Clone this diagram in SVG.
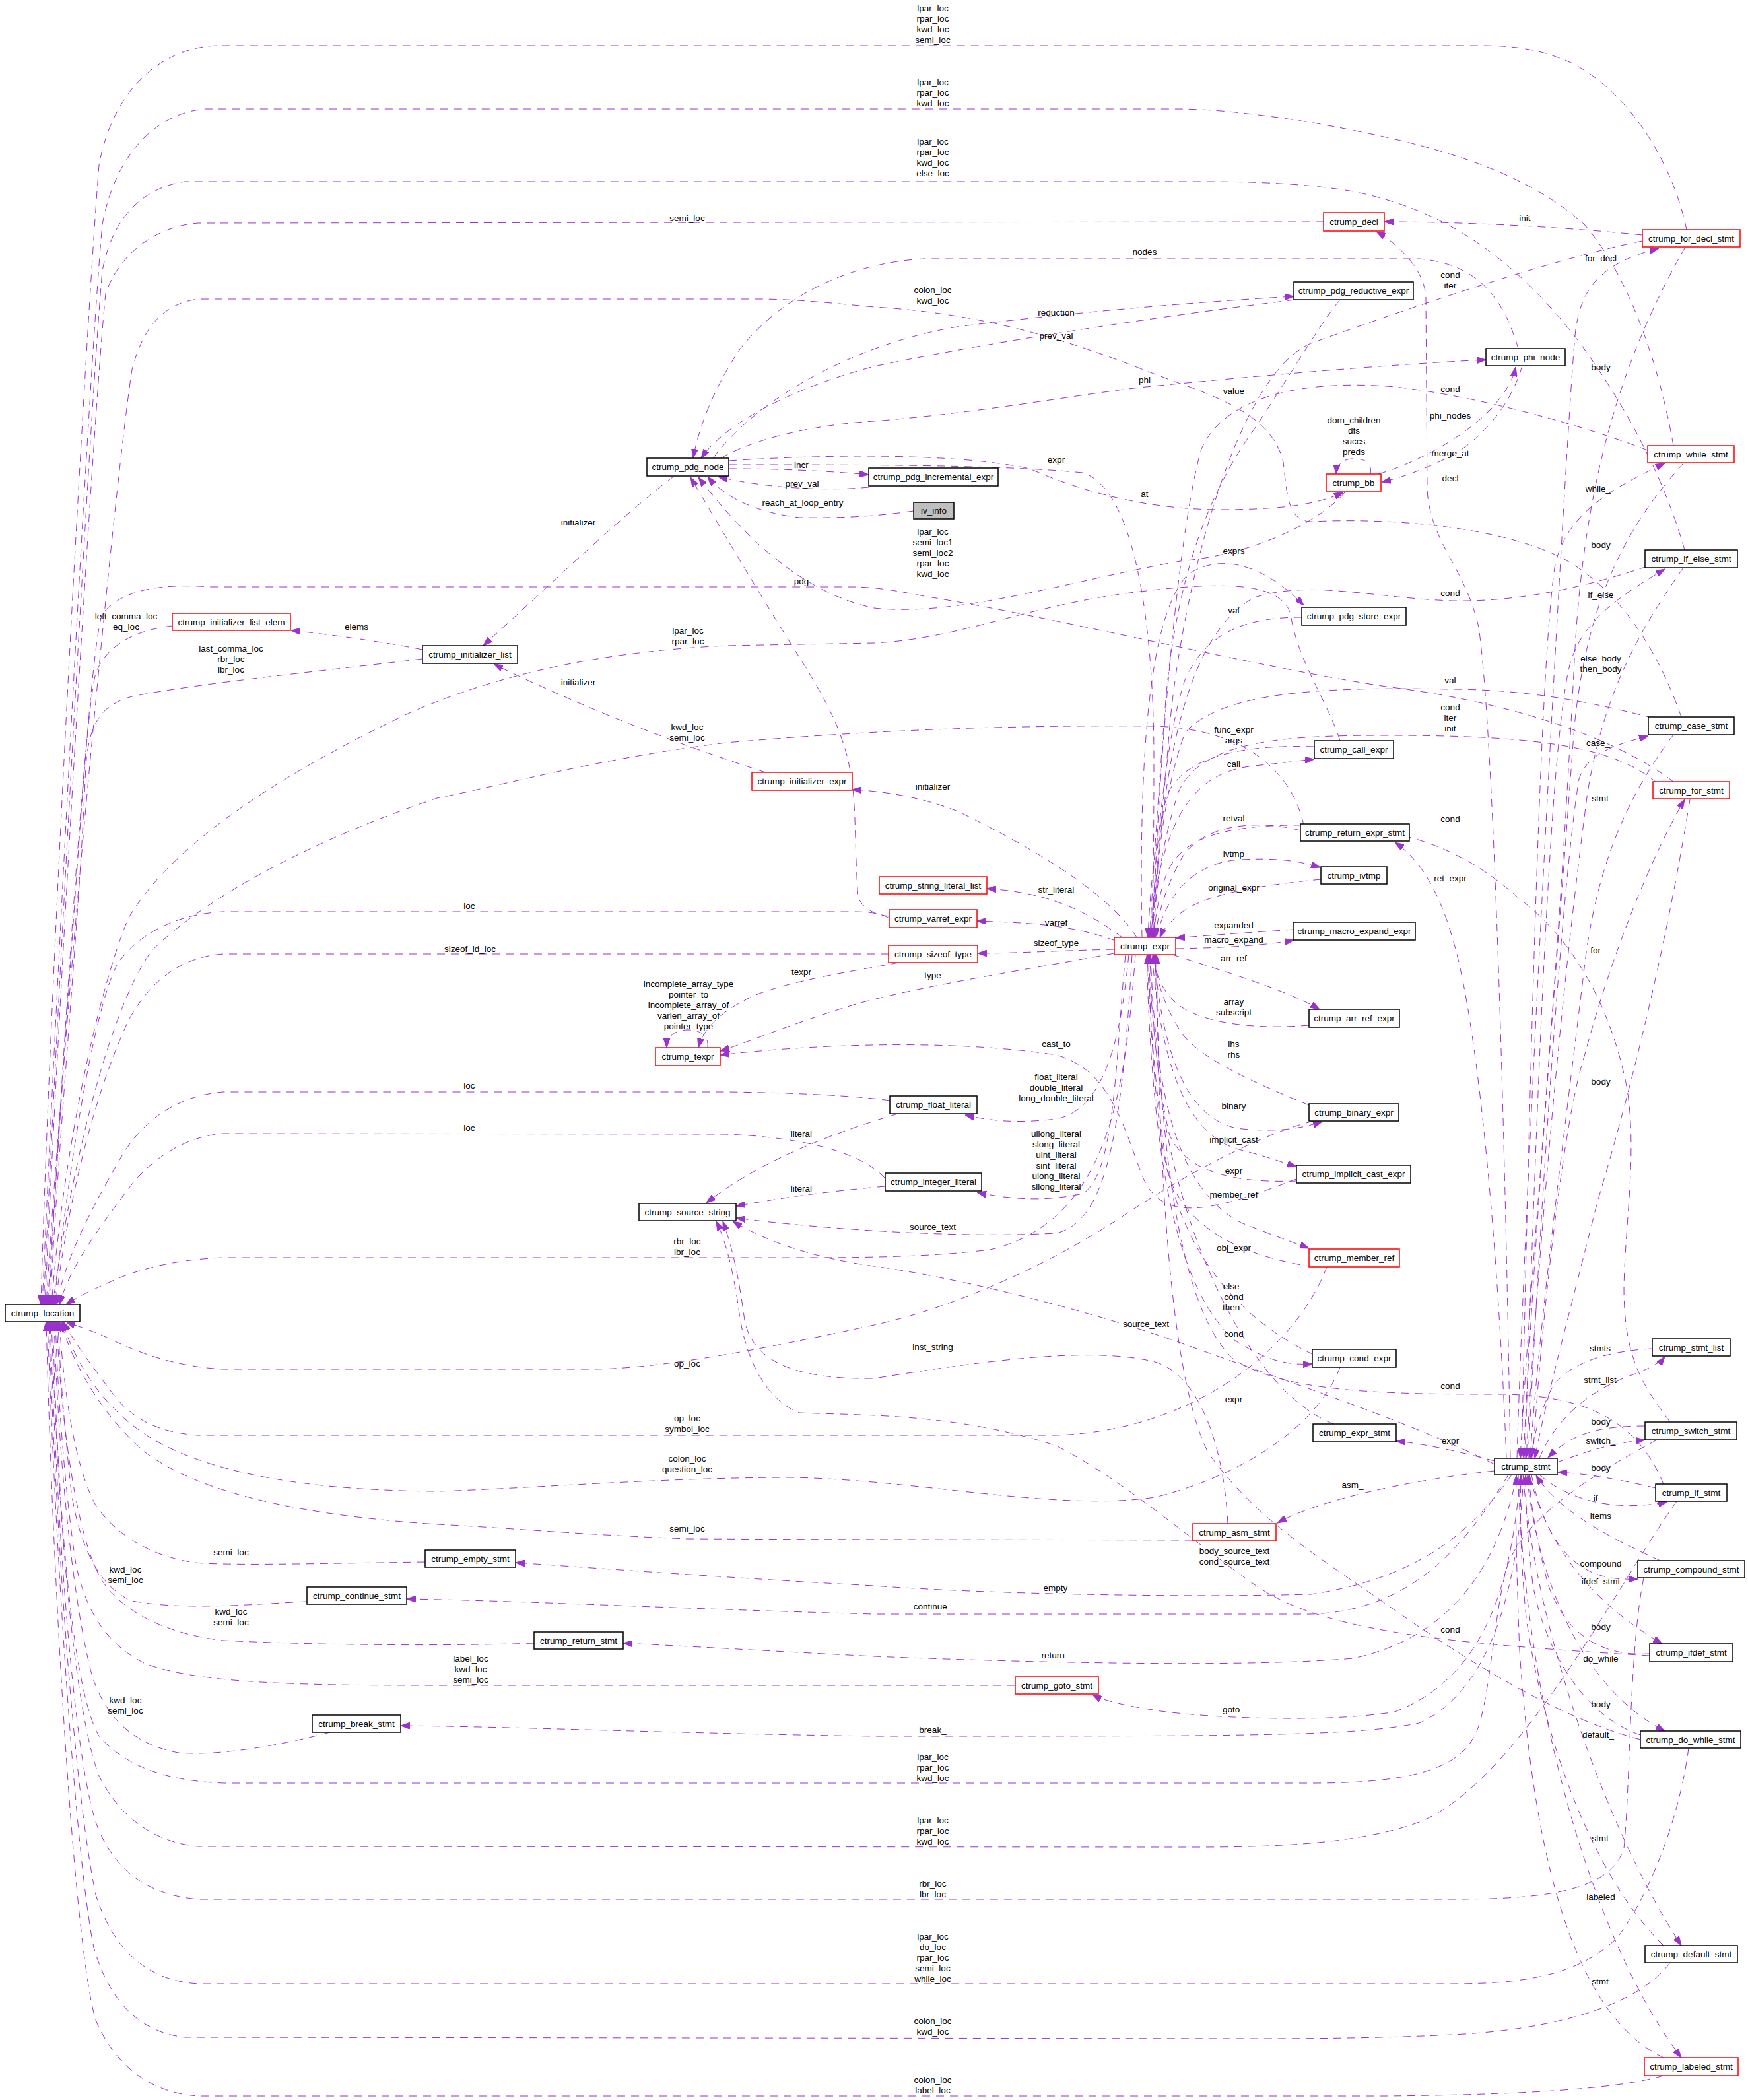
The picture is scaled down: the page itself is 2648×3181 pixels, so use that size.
<svg xmlns="http://www.w3.org/2000/svg" width="2648" height="3181" viewBox="0 0 2648 3181">
<defs>
<marker id="a" markerWidth="14" markerHeight="10" refX="14" refY="5" orient="auto" markerUnits="userSpaceOnUse"><path d="M0,0 L14,5 L0,10 Z" fill="#9a32cd" stroke="#9a32cd"/></marker>
</defs>
<style>
.e{fill:none;stroke:#9a32cd;stroke-width:1;stroke-dasharray:12,9;marker-end:url(#a)}
.n rect{fill:#fff;stroke:#000;stroke-width:1.5}
.r rect{fill:#fff;stroke:#f00;stroke-width:1.5}
.g rect{fill:#bfbfbf;stroke:#000;stroke-width:1.5}
text{font-family:"Liberation Sans",Arial,sans-serif;font-size:13.5px;fill:#000;text-anchor:middle}
</style>
<rect width="2648" height="3181" fill="#fff"/>
<g id="edges">
<path class="e" d="M 2555 348 C 2535 250 2470 140 2380 95 C 2330 73 2290 69 2240 69 L 330 69 C 240 72 170 140 150 250 C 130 500 75 1500 62 1976"/>
<path class="e" d="M 2535 675 C 2515 560 2470 420 2400 340 C 2300 250 2150 215 1990 186 C 1900 172 1840 165 1780 165 L 312 165 C 240 170 175 230 155 340 C 135 560 85 1500 64 1976"/>
<path class="e" d="M 2552 833 C 2520 720 2460 610 2390 515 C 2300 400 2200 320 2050 290 C 1980 278 1900 275 1820 275 L 280 275 C 215 285 170 330 155 410 C 138 600 88 1500 66 1976"/>
<path class="e" d="M 2005 336 L 300 338 C 235 343 180 385 160 445 C 142 620 90 1500 68 1976"/>
<path class="e" d="M 2547 1086 C 2510 980 2450 890 2366 845 C 2260 792 2080 785 1990 790 C 1950 792 1950 750 1944 700 C 1930 640 1870 610 1788 581 C 1700 550 1550 478 1324 465 C 1250 458 1200 453 1150 453 L 300 453 C 245 460 215 500 200 560 C 175 720 100 1500 70 1976"/>
<path class="e" d="M 2535 1184 C 2450 1120 2300 1065 2100 1040 C 1900 1010 1600 935 1400 903 C 1350 893 1320 889 1290 889 L 320 889 C 245 884 185 892 155 930 C 135 980 105 1500 72 1976"/>
<path class="e" d="M 261 948 C 200 955 160 980 145 1020 C 128 1080 95 1600 74 1976"/>
<path class="e" d="M 640 998 C 500 1015 300 1035 200 1055 C 150 1068 135 1100 130 1160 C 120 1400 90 1700 76 1976"/>
<path class="e" d="M 2030 1122 C 2010 1060 1965 1000 1955 930 C 1940 880 1850 880 1704 899 C 1550 920 1450 968 1324 974 L 1100 978 C 950 985 780 1010 620 1080 C 420 1175 260 1280 195 1390 C 160 1470 100 1700 78 1976"/>
<path class="e" d="M 1975 1250 C 1960 1180 1900 1105 1750 1100 C 1500 1098 1300 1108 1100 1125 C 900 1150 760 1190 662 1209 C 450 1280 300 1370 230 1440 C 170 1520 110 1750 80 1976"/>
<path class="e" d="M 1347 1391 C 1335 1384 1320 1381 1290 1381 L 338 1381 C 260 1385 205 1420 178 1460 C 140 1530 100 1800 82 1976"/>
<path class="e" d="M 1346 1445 L 338 1445 C 270 1450 225 1490 195 1545 C 150 1640 105 1800 84 1976"/>
<path class="e" d="M 1348 1667 C 1300 1660 1200 1655 1100 1654 L 338 1654 C 265 1660 215 1700 185 1750 C 145 1820 100 1900 86 1976"/>
<path class="e" d="M 1341 1785 C 1300 1740 1200 1722 1100 1718 L 338 1717 C 275 1722 225 1760 195 1800 C 150 1860 105 1920 90 1976"/>
<path class="e" d="M 1720 1446 C 1705 1650 1680 1850 1500 1893 C 1400 1905 1300 1905 1200 1905 L 338 1905 C 260 1908 200 1925 160 1945 C 130 1958 112 1968 100 1976"/>
<path class="e" d="M 1990 1698 C 1900 1720 1780 1790 1704 1840 C 1600 1910 1450 1980 1324 2007 C 1150 2045 1000 2073 900 2074 L 338 2074 C 260 2070 200 2045 160 2025 C 135 2014 115 2008 100 2002"/>
<path class="e" d="M 2010 1919 C 1960 2050 1800 2168 1600 2174 L 300 2174 C 240 2170 200 2150 170 2110 C 140 2070 110 2030 96 2002"/>
<path class="e" d="M 2030 2071 C 2000 2150 1900 2230 1750 2268 C 1600 2290 1400 2242 1200 2238 C 1000 2238 800 2255 662 2259 C 500 2258 350 2240 250 2190 C 170 2150 120 2080 94 2002"/>
<path class="e" d="M 1807 2333 C 1500 2332 1200 2332 1042 2331 C 900 2326 750 2313 662 2309 C 450 2295 300 2260 220 2200 C 150 2140 108 2060 92 2002"/>
<path class="e" d="M 644 2366 C 500 2368 350 2372 295 2367 C 230 2358 175 2325 145 2280 C 112 2220 96 2100 90 2002"/>
<path class="e" d="M 465 2426 C 380 2430 280 2440 200 2425 C 150 2405 120 2340 108 2260 C 96 2150 90 2060 88 2002"/>
<path class="e" d="M 809 2489 C 700 2493 500 2493 338 2485 C 250 2475 185 2440 155 2395 C 115 2330 92 2150 86 2002"/>
<path class="e" d="M 1538 2553 L 662 2553 C 450 2553 300 2550 220 2520 C 160 2490 130 2440 115 2370 C 97 2250 87 2100 84 2002"/>
<path class="e" d="M 500 2624 C 420 2645 330 2660 270 2655 C 200 2642 160 2600 140 2540 C 110 2430 88 2200 82 2002"/>
<path class="e" d="M 2510 2181 C 2420 2230 2300 2300 2280 2384 C 2260 2470 2255 2600 2231 2634 C 2200 2690 2100 2701 1986 2701 L 340 2701 C 250 2698 190 2675 150 2630 C 110 2560 88 2300 80 2002"/>
<path class="e" d="M 2540 2274 C 2450 2400 2300 2700 2150 2760 C 2050 2797 1900 2798 1800 2798 L 300 2797 C 230 2790 180 2750 150 2690 C 112 2590 88 2300 78 2002"/>
<path class="e" d="M 2490 2390 C 2468 2500 2470 2700 2460 2800 C 2440 2862 2350 2877 2200 2877 L 300 2877 C 220 2870 170 2830 145 2760 C 110 2650 86 2300 76 2002"/>
<path class="e" d="M 2558 2648 C 2545 2750 2500 2870 2450 2935 C 2390 2995 2300 3005 2200 3005 L 300 3005 C 220 3000 170 2950 145 2870 C 110 2700 84 2300 74 2002"/>
<path class="e" d="M 2530 2973 C 2480 3040 2350 3075 2200 3082 C 2100 3087 2000 3088 1900 3088 L 280 3086 C 210 3078 165 3030 142 2950 C 112 2800 82 2300 72 2002"/>
<path class="e" d="M 2520 3144 C 2450 3165 2300 3173 2100 3175 L 300 3175 C 220 3170 170 3120 145 3060 C 112 2950 80 2400 70 2002"/>
<path class="e" d="M 2488 356 C 2350 342 2200 336 2097 336"/>
<path class="e" d="M 2488 365 C 2366 389 2155 459 1986 520 C 1870 570 1790 900 1772 1100 C 1760 1250 1748 1350 1744 1420"/>
<path class="e" d="M 2030 454 C 2000 490 1960 560 1900 650 C 1820 760 1780 900 1766 1060 C 1755 1200 1746 1330 1742 1420"/>
<path class="e" d="M 2496 682 C 2400 645 2240 600 2113 586 C 2000 576 1860 590 1820 680 C 1785 800 1755 1150 1746 1420"/>
<path class="e" d="M 2298 2209 C 2310 1800 2370 700 2385 520 C 2390 440 2420 400 2513 376"/>
<path class="e" d="M 2553 374 C 2470 520 2400 700 2385 1000 C 2360 1500 2320 1900 2303 2208"/>
<path class="e" d="M 2288 2209 C 2280 1700 2262 1100 2240 950 C 2220 860 2165 820 2162 740 L 2160 450 C 2158 410 2120 370 2085 351"/>
<path class="e" d="M 2300 528 C 2280 460 2245 400 2150 392 L 1400 392 C 1300 397 1190 440 1120 530 C 1080 590 1058 650 1050 694"/>
<path class="e" d="M 1080 694 C 1150 600 1300 520 1450 495 C 1650 470 1850 455 1960 449"/>
<path class="e" d="M 1962 454 C 1750 480 1500 518 1324 555 C 1200 588 1100 640 1062 694"/>
<path class="e" d="M 1092 694 C 1150 660 1250 642 1324 638 C 1500 624 1650 594 1746 585 C 1900 570 2100 552 2251 545"/>
<path class="e" d="M 1104 698 C 1250 688 1450 686 1560 710 C 1650 750 1750 772 1850 772 C 1950 772 2000 762 2035 746"/>
<path class="e" d="M 1104 704 C 1300 704 1520 704 1640 716 C 1720 740 1748 950 1748 1150 C 1748 1300 1746 1380 1746 1420"/>
<path class="e" d="M 2037 746 C 2000 790 1900 840 1788 850 C 1620 880 1450 935 1324 921 C 1200 895 1110 790 1058 723"/>
<path class="e" d="M 1347 1388 C 1330 1386 1310 1380 1300 1360 C 1295 1300 1297 1220 1290 1180 C 1280 1110 1250 1060 1220 1010 C 1150 900 1080 780 1046 723"/>
<path class="e" d="M 1104 710 C 1180 710 1250 713 1316 719"/>
<path class="e" d="M 1316 738 C 1250 745 1150 738 1088 722"/>
<path class="e" d="M 1384 774 C 1340 780 1300 785 1211 784 C 1140 776 1095 750 1072 722"/>
<path class="e" d="M 1020 722 C 950 775 850 870 732 978"/>
<path class="e" d="M 1160 1170 C 1050 1135 900 1080 748 1006"/>
<path class="e" d="M 640 984 C 580 972 500 961 441 955"/>
<path class="e" d="M 1730 1420 C 1725 1150 1740 930 1800 870 C 1860 830 1930 870 1975 917"/>
<path class="e" d="M 1972 935 C 1900 935 1830 950 1795 1030 C 1765 1120 1750 1300 1744 1420"/>
<path class="e" d="M 2088 718 C 2150 700 2220 660 2258 620 C 2280 596 2292 576 2296 556"/>
<path class="e" d="M 2306 554 C 2290 610 2250 660 2200 690 C 2160 710 2120 725 2093 730"/>
<path class="e" d="M 2076 718 C 2080 698 2062 694 2048 695 C 2034 696 2025 704 2024 718"/>
<path class="e" d="M 2305 2209 C 2320 1500 2335 1000 2355 860 C 2370 780 2440 740 2522 702"/>
<path class="e" d="M 2550 702 C 2470 790 2405 900 2385 1100 C 2355 1500 2322 1900 2308 2208"/>
<path class="e" d="M 2310 2209 C 2330 1600 2350 1100 2380 1000 C 2400 940 2450 905 2522 862"/>
<path class="e" d="M 2550 860 C 2480 960 2430 1050 2405 1200 C 2365 1500 2330 1900 2312 2208"/>
<path class="e" d="M 2495 858 C 2400 890 2300 912 2200 910 C 2080 906 1986 878 1900 905 C 1800 960 1758 1150 1748 1420"/>
<path class="e" d="M 2505 1088 C 2400 1060 2300 1044 2197 1044 C 2000 1040 1850 1048 1795 1110 C 1762 1200 1750 1330 1746 1420"/>
<path class="e" d="M 2510 1186 C 2440 1125 2300 1114 2100 1114 C 1950 1114 1820 1120 1785 1200 C 1760 1280 1750 1350 1747 1420"/>
<path class="e" d="M 2315 2209 C 2340 1700 2372 1300 2392 1180 C 2405 1140 2450 1127 2497 1115"/>
<path class="e" d="M 2535 1113 C 2470 1200 2422 1300 2402 1450 C 2372 1700 2332 2000 2318 2208"/>
<path class="e" d="M 2530 2154 C 2490 2100 2460 2060 2460 1950 C 2462 1850 2480 1750 2465 1650 C 2440 1520 2380 1420 2300 1360 C 2200 1270 2100 1252 1986 1250 C 1850 1248 1785 1270 1765 1330 C 1752 1370 1749 1400 1748 1420"/>
<path class="e" d="M 2282 2209 C 2270 1900 2240 1550 2200 1420 C 2180 1350 2150 1300 2113 1276"/>
<path class="e" d="M 2322 2209 C 2335 2000 2368 1700 2400 1600 C 2440 1450 2500 1300 2552 1211"/>
<path class="e" d="M 2560 1211 C 2530 1400 2480 1620 2420 1820 C 2380 1980 2342 2120 2325 2209"/>
<path class="e" d="M 2332 2209 C 2360 2140 2420 2100 2480 2080 C 2500 2072 2515 2064 2522 2055"/>
<path class="e" d="M 2503 2043 C 2440 2046 2380 2062 2352 2100 C 2332 2140 2322 2180 2320 2208"/>
<path class="e" d="M 2492 2160 C 2420 2160 2380 2172 2345 2208"/>
<path class="e" d="M 2359 2215 C 2400 2200 2440 2186 2492 2181"/>
<path class="e" d="M 2508 2254 C 2450 2240 2400 2232 2360 2230"/>
<path class="e" d="M 2332 2234 C 2380 2275 2450 2290 2526 2275"/>
<path class="e" d="M 2515 2364 C 2440 2330 2362 2290 2327 2235"/>
<path class="e" d="M 2320 2234 C 2340 2330 2380 2380 2440 2390 C 2460 2393 2472 2392 2481 2392"/>
<path class="e" d="M 2317 2234 C 2340 2330 2400 2420 2518 2490"/>
<path class="e" d="M 2499 2505 C 2420 2510 2370 2470 2345 2400 C 2327 2330 2319 2280 2316 2235"/>
<path class="e" d="M 2313 2234 C 2330 2400 2400 2560 2522 2622"/>
<path class="e" d="M 2485 2628 C 2400 2600 2340 2500 2322 2400 C 2314 2330 2311 2280 2311 2235"/>
<path class="e" d="M 2307 2234 C 2330 2500 2450 2800 2547 2947"/>
<path class="e" d="M 2520 2947 C 2420 2850 2340 2650 2312 2450 C 2302 2350 2303 2280 2304 2235"/>
<path class="e" d="M 2300 2234 C 2310 2600 2420 2950 2547 3117"/>
<path class="e" d="M 2520 3117 C 2380 3050 2322 2800 2302 2500 C 2296 2350 2296 2280 2297 2235"/>
<path class="e" d="M 2264 2213 C 2200 2196 2150 2186 2115 2183"/>
<path class="e" d="M 2020 2157 C 1900 2110 1800 1900 1765 1700 C 1750 1600 1742 1500 1740 1446"/>
<path class="e" d="M 2264 2228 C 2150 2240 2000 2270 1935 2307"/>
<path class="e" d="M 2290 2234 C 2230 2320 2150 2390 1986 2415 C 1800 2420 1500 2415 1324 2402 C 1100 2390 900 2375 781 2367"/>
<path class="e" d="M 2285 2234 C 2220 2340 2140 2440 1986 2445 L 1324 2445 C 1000 2436 800 2425 616 2422"/>
<path class="e" d="M 2298 2234 C 2270 2370 2200 2480 2050 2512 C 1900 2525 1600 2520 1324 2509 C 1150 2500 1050 2494 944 2489"/>
<path class="e" d="M 2303 2234 C 2290 2400 2250 2540 2113 2593 C 2000 2612 1800 2600 1746 2590 C 1700 2583 1670 2575 1655 2567"/>
<path class="e" d="M 2308 2234 C 2300 2400 2260 2560 2150 2610 C 2050 2630 1900 2630 1324 2630 C 1000 2625 800 2616 607 2614"/>
<path class="e" d="M 1740 1420 C 1760 1250 1800 1170 1900 1160 C 1940 1156 1970 1152 1991 1150"/>
<path class="e" d="M 1991 1131 C 1900 1128 1800 1140 1770 1200 C 1750 1260 1742 1350 1739 1420"/>
<path class="e" d="M 1970 1258 C 1900 1240 1820 1250 1790 1300 C 1765 1345 1753 1390 1750 1420"/>
<path class="e" d="M 1752 1420 C 1765 1360 1805 1306 1880 1302 C 1940 1299 1970 1305 2000 1314"/>
<path class="e" d="M 2001 1332 C 1920 1340 1830 1352 1790 1382 C 1772 1396 1762 1408 1757 1420"/>
<path class="e" d="M 1960 1408 C 1900 1412 1840 1416 1781 1421"/>
<path class="e" d="M 1781 1437 C 1850 1436 1920 1432 1960 1424"/>
<path class="e" d="M 1776 1446 C 1850 1470 1950 1500 1999 1529"/>
<path class="e" d="M 1983 1553 C 1900 1560 1820 1550 1782 1520 C 1760 1500 1750 1475 1747 1446"/>
<path class="e" d="M 1983 1674 C 1900 1640 1820 1605 1790 1565 C 1765 1525 1752 1490 1748 1446"/>
<path class="e" d="M 1748 1446 C 1760 1580 1790 1690 1873 1709 C 1930 1716 1970 1710 2003 1699"/>
<path class="e" d="M 1745 1446 C 1760 1620 1800 1722 1880 1742 C 1920 1752 1940 1760 1964 1767"/>
<path class="e" d="M 1964 1789 C 1880 1792 1800 1780 1772 1720 C 1752 1640 1744 1520 1742 1446"/>
<path class="e" d="M 1743 1446 C 1750 1650 1780 1800 1880 1852 C 1930 1872 1960 1882 1983 1891"/>
<path class="e" d="M 1990 1919 C 1900 1906 1800 1870 1770 1780 C 1750 1700 1742 1550 1740 1446"/>
<path class="e" d="M 1990 2052 C 1880 2000 1790 1900 1765 1750 C 1750 1650 1741 1530 1738 1446"/>
<path class="e" d="M 1737 1446 C 1745 1750 1780 1950 1870 2030 C 1920 2062 1950 2068 1988 2066"/>
<path class="e" d="M 2520 2248 C 2480 2150 2400 2115 2281 2112 C 2100 2112 1950 2110 1870 2060 C 1780 1980 1755 1700 1750 1446"/>
<path class="e" d="M 2485 2635 C 2350 2600 2200 2500 2100 2430 C 2000 2360 1900 2300 1830 2200 C 1770 2080 1755 1750 1752 1446"/>
<path class="e" d="M 1722 1420 C 1683 1357 1577 1290 1451 1229 C 1390 1205 1330 1198 1291 1196"/>
<path class="e" d="M 1700 1420 C 1660 1390 1600 1352 1495 1346"/>
<path class="e" d="M 1690 1425 C 1620 1400 1560 1398 1480 1395"/>
<path class="e" d="M 1688 1438 C 1600 1440 1540 1444 1481 1444"/>
<path class="e" d="M 1688 1444 C 1550 1470 1413 1490 1300 1520 C 1200 1550 1130 1580 1091 1592"/>
<path class="e" d="M 1362 1458 C 1300 1470 1214 1482 1150 1505 C 1090 1530 1065 1560 1058 1587"/>
<path class="e" d="M 1072 1587 C 1074 1568 1060 1560 1042 1560 C 1022 1560 1010 1570 1010 1587"/>
<path class="e" d="M 1966 1785 C 1850 1830 1760 1860 1730 1780 C 1700 1700 1680 1620 1600 1598 C 1450 1575 1250 1580 1091 1598"/>
<path class="e" d="M 1710 1446 C 1700 1550 1680 1680 1600 1695 C 1540 1702 1500 1698 1462 1689"/>
<path class="e" d="M 1705 1446 C 1690 1600 1690 1780 1640 1808 C 1580 1822 1520 1815 1480 1806"/>
<path class="e" d="M 1360 1687 C 1250 1720 1150 1760 1070 1822"/>
<path class="e" d="M 1341 1797 C 1250 1805 1180 1815 1115 1827"/>
<path class="e" d="M 1715 1446 C 1700 1700 1680 1850 1600 1868 C 1450 1876 1250 1862 1115 1845"/>
<path class="e" d="M 2264 2218 C 2150 2160 2000 2110 1788 2034 C 1650 1985 1450 1935 1324 1918 C 1230 1905 1160 1880 1110 1850"/>
<path class="e" d="M 1860 2308 C 1855 2200 1820 2080 1746 2062 C 1650 2040 1500 2060 1324 2088 C 1200 2090 1140 2060 1128 2000 C 1120 1940 1110 1890 1095 1850"/>
<path class="e" d="M 2499 2508 C 2200 2490 2000 2472 1900 2400 C 1800 2330 1700 2240 1600 2190 C 1450 2140 1300 2144 1211 2140 C 1160 2120 1130 2060 1120 1990 C 1112 1930 1100 1880 1085 1850"/>
</g>
<g id="edge-labels">
<text x="1413" y="17"><tspan x="1413">lpar_loc</tspan><tspan x="1413" dy="16">rpar_loc</tspan><tspan x="1413" dy="16">kwd_loc</tspan><tspan x="1413" dy="16">semi_loc</tspan></text>
<text x="1413" y="129"><tspan x="1413">lpar_loc</tspan><tspan x="1413" dy="16">rpar_loc</tspan><tspan x="1413" dy="16">kwd_loc</tspan></text>
<text x="1413" y="219"><tspan x="1413">lpar_loc</tspan><tspan x="1413" dy="16">rpar_loc</tspan><tspan x="1413" dy="16">kwd_loc</tspan><tspan x="1413" dy="16">else_loc</tspan></text>
<text x="1041" y="335">semi_loc</text>
<text x="1734" y="386">nodes</text>
<text x="1413" y="444"><tspan x="1413">colon_loc</tspan><tspan x="1413" dy="16">kwd_loc</tspan></text>
<text x="1600" y="478">reduction</text>
<text x="1600" y="513">prev_val</text>
<text x="1734" y="580">phi</text>
<text x="1869" y="597">value</text>
<text x="1600" y="701">expr</text>
<text x="1734" y="753">at</text>
<text x="1413" y="810"><tspan x="1413">lpar_loc</tspan><tspan x="1413" dy="16">semi_loc1</tspan><tspan x="1413" dy="16">semi_loc2</tspan><tspan x="1413" dy="16">rpar_loc</tspan><tspan x="1413" dy="16">kwd_loc</tspan></text>
<text x="1869" y="839">exprs</text>
<text x="1869" y="929">val</text>
<text x="1214" y="709">incr</text>
<text x="1215" y="737">prev_val</text>
<text x="1216" y="766">reach_at_loop_entry</text>
<text x="876" y="796">initializer</text>
<text x="1214" y="885">pdg</text>
<text x="1042" y="960"><tspan x="1042">lpar_loc</tspan><tspan x="1042" dy="16">rpar_loc</tspan></text>
<text x="876" y="1038">initializer</text>
<text x="191" y="938"><tspan x="191">left_comma_loc</tspan><tspan x="191" dy="16">eq_loc</tspan></text>
<text x="540" y="954">elems</text>
<text x="350" y="987"><tspan x="350">last_comma_loc</tspan><tspan x="350" dy="16">rbr_loc</tspan><tspan x="350" dy="16">lbr_loc</tspan></text>
<text x="2310" y="335">init</text>
<text x="2197" y="421"><tspan x="2197">cond</tspan><tspan x="2197" dy="16">iter</tspan></text>
<text x="2425" y="396">for_decl</text>
<text x="2425" y="561">body</text>
<text x="2197" y="594">cond</text>
<text x="2197" y="634">phi_nodes</text>
<text x="2051" y="641"><tspan x="2051">dom_children</tspan><tspan x="2051" dy="16">dfs</tspan><tspan x="2051" dy="16">succs</tspan><tspan x="2051" dy="16">preds</tspan></text>
<text x="2197" y="691">merge_at</text>
<text x="2197" y="729">decl</text>
<text x="2421" y="745">while_</text>
<text x="2425" y="830">body</text>
<text x="2197" y="903">cond</text>
<text x="2425" y="906">if_else</text>
<text x="2425" y="1002"><tspan x="2425">else_body</tspan><tspan x="2425" dy="16">then_body</tspan></text>
<text x="2197" y="1035">val</text>
<text x="2197" y="1076"><tspan x="2197">cond</tspan><tspan x="2197" dy="16">iter</tspan><tspan x="2197" dy="16">init</tspan></text>
<text x="2421" y="1130">case_</text>
<text x="2424" y="1214">stmt</text>
<text x="2197" y="1245">cond</text>
<text x="2197" y="1335">ret_expr</text>
<text x="2421" y="1444">for_</text>
<text x="2425" y="1643">body</text>
<text x="2424" y="2047">stmts</text>
<text x="2424" y="2095">stmt_list</text>
<text x="2197" y="2104">cond</text>
<text x="1869" y="1110"><tspan x="1869">func_expr</tspan><tspan x="1869" dy="16">args</tspan></text>
<text x="1869" y="1162">call</text>
<text x="1413" y="1196">initializer</text>
<text x="1869" y="1244">retval</text>
<text x="1869" y="1298">ivtmp</text>
<text x="1869" y="1349">original_expr</text>
<text x="1600" y="1352">str_literal</text>
<text x="1600" y="1402">varref</text>
<text x="1869" y="1406">expanded</text>
<text x="1869" y="1428">macro_expand</text>
<text x="1600" y="1433">sizeof_type</text>
<text x="1869" y="1456">arr_ref</text>
<text x="1413" y="1482">type</text>
<text x="1869" y="1522"><tspan x="1869">array</tspan><tspan x="1869" dy="16">subscript</tspan></text>
<text x="1600" y="1586">cast_to</text>
<text x="1869" y="1586"><tspan x="1869">lhs</tspan><tspan x="1869" dy="16">rhs</tspan></text>
<text x="1600" y="1636"><tspan x="1600">float_literal</tspan><tspan x="1600" dy="16">double_literal</tspan><tspan x="1600" dy="16">long_double_literal</tspan></text>
<text x="1869" y="1680">binary</text>
<text x="1600" y="1722"><tspan x="1600">ullong_literal</tspan><tspan x="1600" dy="16">slong_literal</tspan><tspan x="1600" dy="16">uint_literal</tspan><tspan x="1600" dy="16">sint_literal</tspan><tspan x="1600" dy="16">ulong_literal</tspan><tspan x="1600" dy="16">sllong_literal</tspan></text>
<text x="1869" y="1731">implicit_cast</text>
<text x="1869" y="1778">expr</text>
<text x="1869" y="1814">member_ref</text>
<text x="1413" y="1863">source_text</text>
<text x="1869" y="1895">obj_expr</text>
<text x="1869" y="1953"><tspan x="1869">else_</tspan><tspan x="1869" dy="16">cond</tspan><tspan x="1869" dy="16">then_</tspan></text>
<text x="1736" y="2010">source_text</text>
<text x="1869" y="2025">cond</text>
<text x="1413" y="2045">inst_string</text>
<text x="1869" y="2124">expr</text>
<text x="1041" y="1106"><tspan x="1041">kwd_loc</tspan><tspan x="1041" dy="16">semi_loc</tspan></text>
<text x="711" y="1377">loc</text>
<text x="712" y="1442">sizeof_id_loc</text>
<text x="1214" y="1477">texpr</text>
<text x="1043" y="1495"><tspan x="1043">incomplete_array_type</tspan><tspan x="1043" dy="16">pointer_to</tspan><tspan x="1043" dy="16">incomplete_array_of</tspan><tspan x="1043" dy="16">varlen_array_of</tspan><tspan x="1043" dy="16">pointer_type</tspan></text>
<text x="711" y="1649">loc</text>
<text x="711" y="1713">loc</text>
<text x="1214" y="1722">literal</text>
<text x="1214" y="1805">literal</text>
<text x="1041" y="1885"><tspan x="1041">rbr_loc</tspan><tspan x="1041" dy="16">lbr_loc</tspan></text>
<text x="1041" y="2070">op_loc</text>
<text x="350" y="2356">semi_loc</text>
<text x="190" y="2382"><tspan x="190">kwd_loc</tspan><tspan x="190" dy="16">semi_loc</tspan></text>
<text x="350" y="2446"><tspan x="350">kwd_loc</tspan><tspan x="350" dy="16">semi_loc</tspan></text>
<text x="190" y="2580"><tspan x="190">kwd_loc</tspan><tspan x="190" dy="16">semi_loc</tspan></text>
<text x="1041" y="2153"><tspan x="1041">op_loc</tspan><tspan x="1041" dy="16">symbol_loc</tspan></text>
<text x="1041" y="2214"><tspan x="1041">colon_loc</tspan><tspan x="1041" dy="16">question_loc</tspan></text>
<text x="1041" y="2320">semi_loc</text>
<text x="713" y="2517"><tspan x="713">label_loc</tspan><tspan x="713" dy="16">kwd_loc</tspan><tspan x="713" dy="16">semi_loc</tspan></text>
<text x="1870" y="2354"><tspan x="1870">body_source_text</tspan><tspan x="1870" dy="16">cond_source_text</tspan></text>
<text x="1599" y="2410">empty</text>
<text x="1413" y="2438">continue_</text>
<text x="1599" y="2512">return_</text>
<text x="1869" y="2594">goto_</text>
<text x="1413" y="2625">break_</text>
<text x="1413" y="2666"><tspan x="1413">lpar_loc</tspan><tspan x="1413" dy="16">rpar_loc</tspan><tspan x="1413" dy="16">kwd_loc</tspan></text>
<text x="1413" y="2762"><tspan x="1413">lpar_loc</tspan><tspan x="1413" dy="16">rpar_loc</tspan><tspan x="1413" dy="16">kwd_loc</tspan></text>
<text x="1413" y="2858"><tspan x="1413">rbr_loc</tspan><tspan x="1413" dy="16">lbr_loc</tspan></text>
<text x="1413" y="2938"><tspan x="1413">lpar_loc</tspan><tspan x="1413" dy="16">do_loc</tspan><tspan x="1413" dy="16">rpar_loc</tspan><tspan x="1413" dy="16">semi_loc</tspan><tspan x="1413" dy="16">while_loc</tspan></text>
<text x="1413" y="3066"><tspan x="1413">colon_loc</tspan><tspan x="1413" dy="16">kwd_loc</tspan></text>
<text x="1413" y="3155"><tspan x="1413">colon_loc</tspan><tspan x="1413" dy="16">label_loc</tspan></text>
<text x="2425" y="2158">body</text>
<text x="2425" y="2187">switch_</text>
<text x="2197" y="2187">expr</text>
<text x="2049" y="2254">asm_</text>
<text x="2425" y="2228">body</text>
<text x="2421" y="2274">if_</text>
<text x="2425" y="2301">items</text>
<text x="2425" y="2373">compound</text>
<text x="2425" y="2400">ifdef_stmt</text>
<text x="2425" y="2469">body</text>
<text x="2197" y="2473">cond</text>
<text x="2425" y="2517">do_while</text>
<text x="2425" y="2586">body</text>
<text x="2421" y="2632">default_</text>
<text x="2424" y="2789">stmt</text>
<text x="2425" y="2878">labeled</text>
<text x="2424" y="3006">stmt</text>
</g>
<g id="node-ctrump_location" class="n"><rect x="8" y="1976" width="113" height="26"/><text x="64.5" y="1994">ctrump_location</text></g>
<g id="node-ctrump_initializer_list_elem" class="r"><rect x="261" y="929" width="179" height="26"/><text x="350.5" y="947">ctrump_initializer_list_elem</text></g>
<g id="node-ctrump_initializer_list" class="n"><rect x="640" y="978" width="144" height="27"/><text x="712" y="996">ctrump_initializer_list</text></g>
<g id="node-ctrump_pdg_node" class="n"><rect x="980" y="694" width="124" height="27"/><text x="1042" y="712">ctrump_pdg_node</text></g>
<g id="node-ctrump_pdg_incremental_expr" class="n"><rect x="1316" y="709" width="196" height="27"/><text x="1414" y="727">ctrump_pdg_incremental_expr</text></g>
<g id="node-iv_info" class="g"><rect x="1384" y="761" width="61" height="25"/><text x="1414.5" y="778">iv_info</text></g>
<g id="node-ctrump_pdg_reductive_expr" class="n"><rect x="1960" y="427" width="181" height="27"/><text x="2050.5" y="445">ctrump_pdg_reductive_expr</text></g>
<g id="node-ctrump_pdg_store_expr" class="n"><rect x="1972" y="920" width="158" height="27"/><text x="2051" y="938">ctrump_pdg_store_expr</text></g>
<g id="node-ctrump_decl" class="r"><rect x="2005" y="322" width="92" height="28"/><text x="2051" y="341">ctrump_decl</text></g>
<g id="node-ctrump_for_decl_stmt" class="r"><rect x="2488" y="348" width="148" height="26"/><text x="2562" y="366">ctrump_for_decl_stmt</text></g>
<g id="node-ctrump_phi_node" class="n"><rect x="2251" y="528" width="120" height="26"/><text x="2311" y="546">ctrump_phi_node</text></g>
<g id="node-ctrump_bb" class="r"><rect x="2009" y="718" width="83" height="26"/><text x="2050.5" y="736">ctrump_bb</text></g>
<g id="node-ctrump_while_stmt" class="r"><rect x="2496" y="675" width="131" height="26"/><text x="2561.5" y="693">ctrump_while_stmt</text></g>
<g id="node-ctrump_if_else_stmt" class="n"><rect x="2492" y="833" width="140" height="27"/><text x="2562" y="851">ctrump_if_else_stmt</text></g>
<g id="node-ctrump_initializer_expr" class="r"><rect x="1139" y="1170" width="152" height="27"/><text x="1215" y="1188">ctrump_initializer_expr</text></g>
<g id="node-ctrump_texpr" class="r"><rect x="993" y="1587" width="98" height="27"/><text x="1042" y="1605">ctrump_texpr</text></g>
<g id="node-ctrump_source_string" class="n"><rect x="968" y="1823" width="147" height="26"/><text x="1041.5" y="1841">ctrump_source_string</text></g>
<g id="node-ctrump_string_literal_list" class="r"><rect x="1332" y="1328" width="163" height="26"/><text x="1413.5" y="1346">ctrump_string_literal_list</text></g>
<g id="node-ctrump_varref_expr" class="r"><rect x="1347" y="1378" width="133" height="27"/><text x="1413.5" y="1396">ctrump_varref_expr</text></g>
<g id="node-ctrump_sizeof_type" class="r"><rect x="1346" y="1432" width="135" height="26"/><text x="1413.5" y="1450">ctrump_sizeof_type</text></g>
<g id="node-ctrump_expr" class="r"><rect x="1688" y="1420" width="93" height="26"/><text x="1734.5" y="1438">ctrump_expr</text></g>
<g id="node-ctrump_float_literal" class="n"><rect x="1348" y="1660" width="132" height="27"/><text x="1414" y="1678">ctrump_float_literal</text></g>
<g id="node-ctrump_integer_literal" class="n"><rect x="1341" y="1777" width="146" height="27"/><text x="1414" y="1795">ctrump_integer_literal</text></g>
<g id="node-ctrump_call_expr" class="n"><rect x="1991" y="1122" width="120" height="27"/><text x="2051" y="1140">ctrump_call_expr</text></g>
<g id="node-ctrump_return_expr_stmt" class="n"><rect x="1970" y="1248" width="165" height="26"/><text x="2052.5" y="1266">ctrump_return_expr_stmt</text></g>
<g id="node-ctrump_ivtmp" class="n"><rect x="2001" y="1313" width="100" height="26"/><text x="2051" y="1331">ctrump_ivtmp</text></g>
<g id="node-ctrump_macro_expand_expr" class="n"><rect x="1959" y="1397" width="185" height="27"/><text x="2051.5" y="1415">ctrump_macro_expand_expr</text></g>
<g id="node-ctrump_arr_ref_expr" class="n"><rect x="1983" y="1529" width="137" height="27"/><text x="2051.5" y="1547">ctrump_arr_ref_expr</text></g>
<g id="node-ctrump_binary_expr" class="n"><rect x="1983" y="1672" width="136" height="26"/><text x="2051" y="1690">ctrump_binary_expr</text></g>
<g id="node-ctrump_implicit_cast_expr" class="n"><rect x="1964" y="1765" width="173" height="27"/><text x="2050.5" y="1783">ctrump_implicit_cast_expr</text></g>
<g id="node-ctrump_member_ref" class="r"><rect x="1983" y="1892" width="137" height="27"/><text x="2051.5" y="1910">ctrump_member_ref</text></g>
<g id="node-ctrump_cond_expr" class="n"><rect x="1988" y="2044" width="127" height="27"/><text x="2051.5" y="2062">ctrump_cond_expr</text></g>
<g id="node-ctrump_case_stmt" class="n"><rect x="2497" y="1086" width="130" height="27"/><text x="2562" y="1104">ctrump_case_stmt</text></g>
<g id="node-ctrump_for_stmt" class="r"><rect x="2504" y="1184" width="116" height="26"/><text x="2562" y="1202">ctrump_for_stmt</text></g>
<g id="node-ctrump_stmt_list" class="n"><rect x="2503" y="2028" width="118" height="26"/><text x="2562" y="2046">ctrump_stmt_list</text></g>
<g id="node-ctrump_expr_stmt" class="n"><rect x="1989" y="2157" width="126" height="27"/><text x="2052" y="2175">ctrump_expr_stmt</text></g>
<g id="node-ctrump_stmt" class="n"><rect x="2264" y="2209" width="95" height="25"/><text x="2311.5" y="2226">ctrump_stmt</text></g>
<g id="node-ctrump_switch_stmt" class="n"><rect x="2492" y="2154" width="139" height="27"/><text x="2561.5" y="2172">ctrump_switch_stmt</text></g>
<g id="node-ctrump_if_stmt" class="n"><rect x="2508" y="2248" width="108" height="26"/><text x="2562" y="2266">ctrump_if_stmt</text></g>
<g id="node-ctrump_compound_stmt" class="n"><rect x="2481" y="2364" width="162" height="26"/><text x="2562" y="2382">ctrump_compound_stmt</text></g>
<g id="node-ctrump_ifdef_stmt" class="n"><rect x="2499" y="2490" width="126" height="27"/><text x="2562" y="2508">ctrump_ifdef_stmt</text></g>
<g id="node-ctrump_do_while_stmt" class="n"><rect x="2485" y="2622" width="152" height="26"/><text x="2561" y="2640">ctrump_do_while_stmt</text></g>
<g id="node-ctrump_default_stmt" class="n"><rect x="2492" y="2947" width="140" height="26"/><text x="2562" y="2965">ctrump_default_stmt</text></g>
<g id="node-ctrump_labeled_stmt" class="r"><rect x="2491" y="3117" width="142" height="27"/><text x="2562" y="3135">ctrump_labeled_stmt</text></g>
<g id="node-ctrump_continue_stmt" class="n"><rect x="465" y="2404" width="151" height="26"/><text x="540.5" y="2422">ctrump_continue_stmt</text></g>
<g id="node-ctrump_break_stmt" class="n"><rect x="473" y="2598" width="134" height="26"/><text x="540" y="2616">ctrump_break_stmt</text></g>
<g id="node-ctrump_empty_stmt" class="n"><rect x="644" y="2348" width="137" height="26"/><text x="712.5" y="2366">ctrump_empty_stmt</text></g>
<g id="node-ctrump_return_stmt" class="n"><rect x="809" y="2472" width="135" height="26"/><text x="876.5" y="2490">ctrump_return_stmt</text></g>
<g id="node-ctrump_asm_stmt" class="r"><rect x="1807" y="2308" width="126" height="26"/><text x="1870" y="2326">ctrump_asm_stmt</text></g>
<g id="node-ctrump_goto_stmt" class="r"><rect x="1538" y="2540" width="126" height="26"/><text x="1601" y="2558">ctrump_goto_stmt</text></g>
</svg>
